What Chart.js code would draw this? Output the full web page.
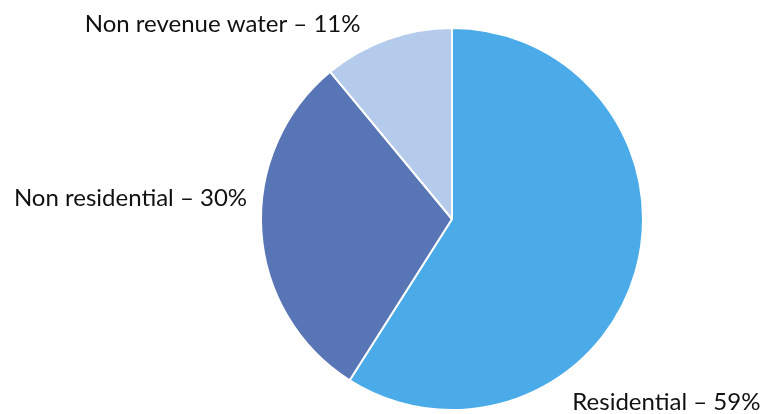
<!DOCTYPE html>
<html>
<head>
<meta charset="utf-8">
<script src="https://cdn.jsdelivr.net/npm/chart.js@4"></script>
<style>
  html, body { margin: 0; padding: 0; background: #fff; }
  #wrap { width: 765px; height: 414px; }
</style>
</head>
<body>
<div id="wrap"><canvas id="pieChart"></canvas></div>
<script>
// water use split
const categories = ["Residential", "Non residential", "Non revenue water"];
const shares = [59, 30, 11];
const sliceColors = ["rgb(74, 171, 232)", "rgb(88, 117, 181)", "rgb(180, 203, 236)"];

// label placement, in units of the pie radius from its centre
const labelSpots = [
  { dx: 0.63, dy: 1.0, align: "left" },
  { dx: -1.073, dy: -0.068, align: "right" },
  { dx: -0.479, dy: -0.979, align: "right" }
];

const outsideLabels = {
  id: "outsideLabels",
  afterDatasetsDraw(chart) {
    const c = chart.ctx;
    const arcs = chart.getDatasetMeta(0).data;
    c.save();
    c.font = "24px Lato";
    c.fillStyle = "#111";
    c.textBaseline = "alphabetic";
    arcs.forEach((arc, i) => {
      const r = arc.outerRadius;
      const spot = labelSpots[i];
      c.textAlign = spot.align;
      const text = categories[i] + " \u2013 " + shares[i] + "%";
      c.fillText(text, arc.x + spot.dx * r, arc.y + spot.dy * r);
    });
    c.restore();
  }
};

const ctx = document.getElementById("pieChart");
new Chart(ctx, {
  type: "pie",
  data: {
    labels: categories,
    datasets: [
      {
        data: shares,
        backgroundColor: sliceColors,
        borderColor: "#fff",
        borderWidth: 2
      }
    ]
  },
  options: {
    responsive: true,
    maintainAspectRatio: false,
    animation: false,
    layout: {
      padding: { left: 260, right: 121, top: 27, bottom: 3 }
    },
    plugins: {
      legend: { display: false },
      tooltip: { enabled: false }
    }
  },
  plugins: [outsideLabels]
});
</script>
</body>
</html>
